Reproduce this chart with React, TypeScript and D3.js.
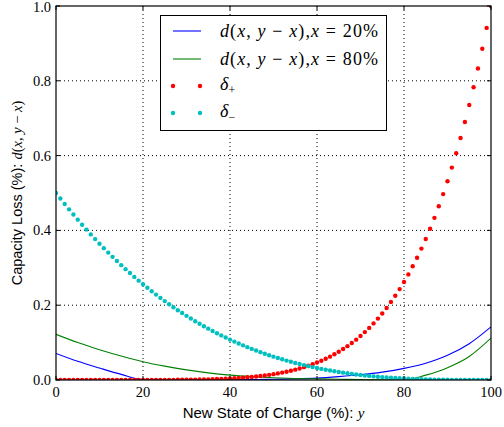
import React, { useEffect, useRef } from "react";
import * as d3 from "d3";

// state of charge grid for the dotted series (one dot per percent)
const soc = d3.range(0, 101);

// delta+ (red dots)
const deltaPlus = [
  0, 0, 0, 0, 0, 0, 0, 0, 0, 0, 0, 0, 0, 0, 0, 0, 0, 0, 0, 0,
  0.0001, 0.0001, 0.0001, 0.0001, 0.0002, 0.0002, 0.0003, 0.0004, 0.0005, 0.0006,
  0.0007, 0.0009, 0.0011, 0.0013, 0.0015, 0.0018, 0.0022, 0.0026, 0.003, 0.0035,
  0.0041, 0.0048, 0.0055, 0.0063, 0.0073, 0.0083, 0.0095, 0.0108, 0.0122, 0.0138,
  0.0156, 0.0176, 0.0198, 0.0222, 0.0248, 0.0277, 0.0308, 0.0343, 0.0381, 0.0422,
  0.0467, 0.0515, 0.0568, 0.0625, 0.0687, 0.0754, 0.0827, 0.0905, 0.0989, 0.1079,
  0.1177, 0.1281, 0.1393, 0.1513, 0.1642, 0.178, 0.1927, 0.2084, 0.2252, 0.2431,
  0.2621, 0.2824, 0.304, 0.3269, 0.3513, 0.3771, 0.4046, 0.4336, 0.4644, 0.497,
  0.5314, 0.5679, 0.6064, 0.647, 0.6899, 0.7351, 0.7828, 0.833, 0.8858, 0.9415,
  1.0,
];

// delta- (cyan dots)
const deltaMinus = [
  0.5, 0.4851, 0.4706, 0.4563, 0.4424, 0.4287, 0.4153, 0.4022, 0.3893, 0.3768,
  0.3645, 0.3525, 0.3407, 0.3293, 0.318, 0.3071, 0.2964, 0.2859, 0.2757, 0.2657,
  0.256, 0.2465, 0.2373, 0.2283, 0.2195, 0.2109, 0.2026, 0.1945, 0.1866, 0.179,
  0.1715, 0.1643, 0.1572, 0.1504, 0.1437, 0.1373, 0.1311, 0.125, 0.1192, 0.1135,
  0.108, 0.1027, 0.0976, 0.0926, 0.0878, 0.0832, 0.0787, 0.0744, 0.0703, 0.0663,
  0.0625, 0.0588, 0.0553, 0.0519, 0.0487, 0.0456, 0.0426, 0.0398, 0.037, 0.0345,
  0.032, 0.0297, 0.0274, 0.0253, 0.0233, 0.0214, 0.0197, 0.018, 0.0164, 0.0149,
  0.0135, 0.0122, 0.011, 0.0098, 0.0088, 0.0078, 0.0069, 0.0061, 0.0053, 0.0046,
  0.004, 0.0034, 0.0029, 0.0025, 0.002, 0.0017, 0.0014, 0.0011, 0.0009, 0.0007,
  0.0005, 0.0004, 0.0003, 0.0002, 0.0001, 0.0001, 0, 0, 0, 0,
  0,
];

// solid curves, sampled every 5%
const lineSoc = [0, 5, 10, 15, 20, 25, 30, 35, 40, 45, 50, 55, 60, 65, 70, 75, 80, 85, 90, 95, 100];
const lossFrom20 = [
  0.071, 0.05, 0.032, 0.015, 0.001, 0, 0, 0, 0.001, 0.001,
  0.002, 0.003, 0.005, 0.009, 0.014, 0.021, 0.031, 0.045, 0.066, 0.097, 0.142,
];
const lossFrom80 = [
  0.122, 0.1, 0.081, 0.064, 0.049, 0.037, 0.027, 0.019, 0.013, 0.009,
  0.006, 0.004, 0.003, 0.002, 0.001, 0.0005, 0, 0.013, 0.033, 0.063, 0.112,
];

const xTicks = [0, 20, 40, 60, 80, 100];
const yTicks = [0, 0.2, 0.4, 0.6, 0.8, 1.0];

const W = 504;
const H = 427;
const m = { left: 56, right: 491, top: 6, bottom: 380 };

const serif = "'Liberation Serif', 'DejaVu Serif', serif";
const sans = "'Liberation Sans', Arial, sans-serif";

type Seg = [string, boolean];

const addMath = (sel: any, segs: Seg[]) => {
  segs.forEach(([t, it]) => {
    sel
      .append("tspan")
      .attr("font-family", serif)
      .attr("font-style", it ? "italic" : "normal")
      .text(t);
  });
};

const App = () => {
  const ref = useRef<SVGSVGElement>(null);

  useEffect(() => {
    const svg = d3.select(ref.current);
    svg.selectAll("*").remove();

    const x = d3.scaleLinear().domain([0, 100]).range([m.left, m.right]);
    const y = d3.scaleLinear().domain([0, 1]).range([m.bottom, m.top]);

    svg
      .append("defs")
      .append("clipPath")
      .attr("id", "plotclip")
      .append("rect")
      .attr("x", m.left)
      .attr("y", m.top)
      .attr("width", m.right - m.left)
      .attr("height", m.bottom - m.top);

    // grid
    const grid = svg.append("g").attr("stroke", "#000").attr("stroke-width", 1).attr("stroke-dasharray", "1,3");
    xTicks.slice(1, -1).forEach((t) => {
      grid.append("line").attr("x1", x(t)).attr("x2", x(t)).attr("y1", m.top).attr("y2", m.bottom);
    });
    yTicks.slice(1, -1).forEach((t) => {
      grid.append("line").attr("x1", m.left).attr("x2", m.right).attr("y1", y(t)).attr("y2", y(t));
    });

    const plot = svg.append("g").attr("clip-path", "url(#plotclip)");

    const line = d3
      .line<number>()
      .x((d, i) => x(lineSoc[i]))
      .y((d) => y(d))
      .curve(d3.curveMonotoneX);

    plot.append("path").attr("d", line(lossFrom20)).attr("fill", "none").attr("stroke", "#0000ff").attr("stroke-width", 1.1);
    plot.append("path").attr("d", line(lossFrom80)).attr("fill", "none").attr("stroke", "#008000").attr("stroke-width", 1.1);

    plot
      .append("g")
      .selectAll("circle")
      .data(deltaPlus)
      .join("circle")
      .attr("cx", (d, i) => x(soc[i]))
      .attr("cy", (d) => y(d))
      .attr("r", 2.2)
      .attr("fill", "#ff0000");

    plot
      .append("g")
      .selectAll("circle")
      .data(deltaMinus)
      .join("circle")
      .attr("cx", (d, i) => x(soc[i]))
      .attr("cy", (d) => y(d))
      .attr("r", 2.2)
      .attr("fill", "#00bfbf");

    // frame + inward ticks on all sides
    svg
      .append("rect")
      .attr("x", m.left)
      .attr("y", m.top)
      .attr("width", m.right - m.left)
      .attr("height", m.bottom - m.top)
      .attr("fill", "none")
      .attr("stroke", "#000")
      .attr("stroke-width", 1.2);

    const ticks = svg.append("g").attr("stroke", "#000").attr("stroke-width", 1);
    xTicks.forEach((t) => {
      ticks.append("line").attr("x1", x(t)).attr("x2", x(t)).attr("y1", m.bottom).attr("y2", m.bottom - 4);
      ticks.append("line").attr("x1", x(t)).attr("x2", x(t)).attr("y1", m.top).attr("y2", m.top + 4);
    });
    yTicks.forEach((t) => {
      ticks.append("line").attr("x1", m.left).attr("x2", m.left + 4).attr("y1", y(t)).attr("y2", y(t));
      ticks.append("line").attr("x1", m.right).attr("x2", m.right - 4).attr("y1", y(t)).attr("y2", y(t));
    });

    // tick labels
    svg
      .append("g")
      .selectAll("text")
      .data(xTicks)
      .join("text")
      .attr("x", (d) => x(d))
      .attr("y", m.bottom + 17)
      .attr("text-anchor", "middle")
      .attr("font-family", serif)
      .attr("font-size", 14.5)
      .text((d) => String(d));

    svg
      .append("g")
      .selectAll("text")
      .data(yTicks)
      .join("text")
      .attr("x", m.left - 5)
      .attr("y", (d) => Math.max(y(d) + 5, 12))
      .attr("text-anchor", "end")
      .attr("font-family", serif)
      .attr("font-size", 14.5)
      .text((d) => d3.format(".1f")(d));

    // axis labels
    const xl = svg
      .append("text")
      .attr("x", (m.left + m.right) / 2)
      .attr("y", 418)
      .attr("text-anchor", "middle")
      .attr("font-size", 15);
    xl.append("tspan").attr("font-family", sans).text("New State of Charge (%): ");
    addMath(xl, [["y", true]]);

    const yl = svg
      .append("text")
      .attr("transform", `translate(22,${(m.top + m.bottom) / 2}) rotate(-90)`)
      .attr("text-anchor", "middle")
      .attr("font-size", 14.5);
    yl.append("tspan").attr("font-family", sans).text("Capacity Loss (%): ");
    addMath(yl, [["d", true], ["(", false], ["x", true], [", ", false], ["y", true], [" − ", false], ["x", true], [")", false]]);

    // legend
    const lg = svg.append("g");
    lg.append("rect")
      .attr("x", 160.5)
      .attr("y", 15.5)
      .attr("width", 226)
      .attr("height", 115)
      .attr("fill", "#fff")
      .attr("stroke", "#000")
      .attr("stroke-width", 1);

    const rows = [31, 59, 86, 113];
    const fs = 18;
    [
      { c: "#0000ff", pct: "20%" },
      { c: "#008000", pct: "80%" },
    ].forEach((e, i) => {
      lg.append("line")
        .attr("x1", 173)
        .attr("x2", 201)
        .attr("y1", rows[i])
        .attr("y2", rows[i])
        .attr("stroke", e.c)
        .attr("stroke-width", 1.1);
      const t = lg
        .append("text")
        .attr("x", 220)
        .attr("y", rows[i] + 5.5)
        .attr("font-size", fs)
        .attr("textLength", 158)
        .attr("lengthAdjust", "spacing");
      addMath(t, [
        ["d", true], ["(", false], ["x", true], [", ", false], ["y", true], [" − ", false], ["x", true], [")", false],
        [",", false], ["x", true], [" = " + e.pct, false],
      ]);
    });

    [
      { c: "#ff0000", sub: "+" },
      { c: "#00bfbf", sub: "−" },
    ].forEach((e, k) => {
      const ry = rows[k + 2];
      [173, 200].forEach((cx) => {
        lg.append("circle").attr("cx", cx).attr("cy", ry).attr("r", 2.2).attr("fill", e.c);
      });
      const t = lg.append("text").attr("x", 220).attr("y", ry + 4).attr("font-size", fs).attr("font-family", serif);
      t.append("tspan").attr("font-style", "italic").text("δ");
      t.append("tspan").attr("font-size", 12).attr("dy", 4).text(e.sub);
    });
  }, []);

  return (
    <div style={{ position: "absolute", left: 0, top: 0 }}>
      <svg ref={ref} width={W} height={H} style={{ display: "block" }}></svg>
    </div>
  );
};

export default App;
